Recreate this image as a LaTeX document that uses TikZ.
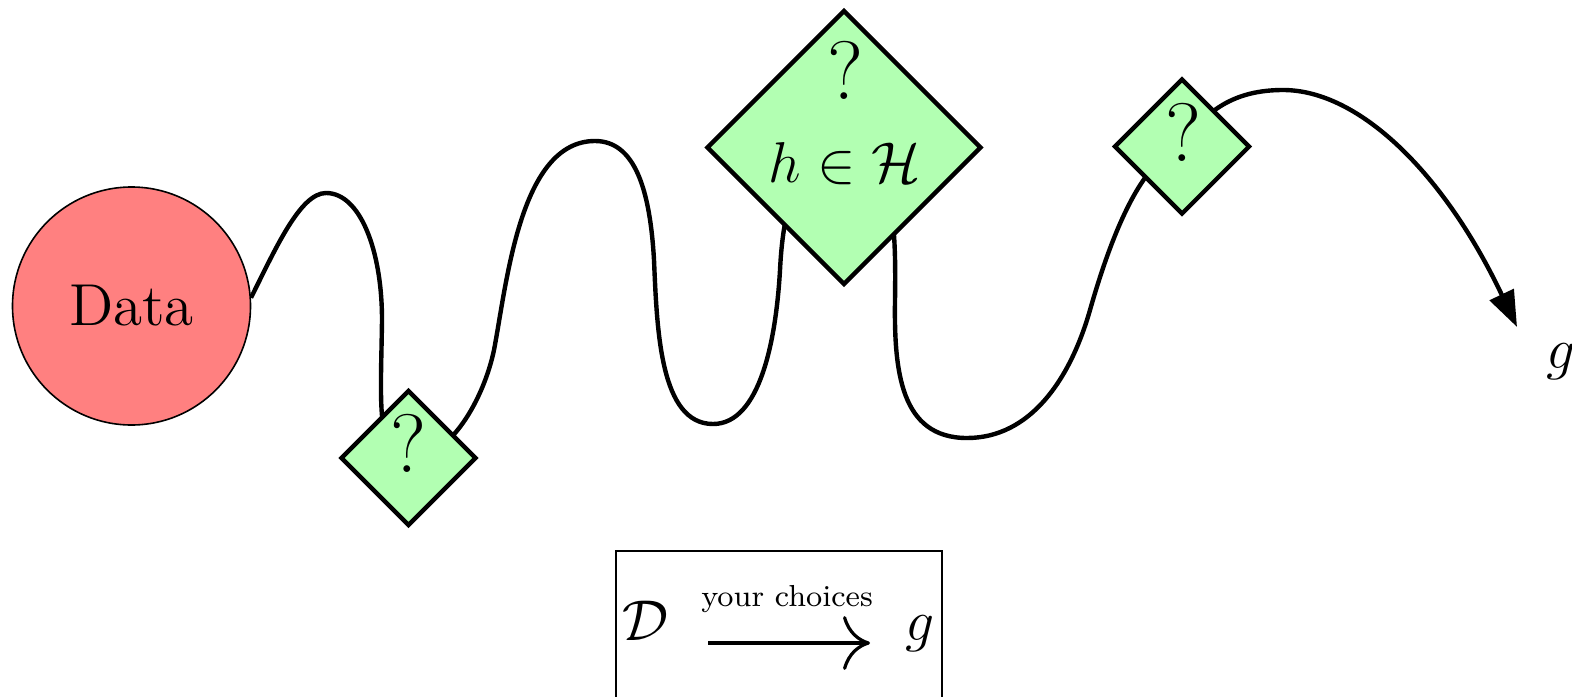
\documentclass[tikz,border=0pt]{standalone}
\usetikzlibrary{shapes.geometric,arrows.meta,backgrounds}
\begin{document}
\begin{tikzpicture}[x=0.25pt,y=-0.25pt,
  curve/.style={line width=1.1pt},
  datanode/.style={circle,draw,line width=0.4pt,fill=red!50,minimum size=59.5pt,inner sep=0pt,font=\fontsize{14.8}{17}\selectfont},
  dia/.style={diamond,draw,line width=1.1pt,fill=green!30,inner sep=0pt},
  qmark/.style={font=\huge,inner sep=0pt},
  bigmath/.style={font=\Large,inner sep=0pt},
  frame/.style={draw,line width=0.5pt,inner sep=0pt},
  lbl/.style={font=\fontsize{7.6}{9}\selectfont,inner sep=0pt}]
\useasboundingbox (0,0) rectangle (1572,696);
\node[datanode] (data) at (131.5,306) {Data};
\node[dia,minimum size=34pt] (d1) at (408.5,458) {};
\node[qmark] (q1) at (408,443) {?};
\node[dia,minimum size=68.75pt] (d2) at (844,147.5) {};
\node[qmark] (q2) at (845,70) {?};
\node[bigmath] (h) at (845,164) {$h\in\mathcal{H}$};
\node[dia,minimum size=34pt] (d3) at (1182,146.5) {};
\node[qmark] (q3) at (1183,132) {?};
\node[bigmath] (g) at (1561,362) {$g$};
\coordinate (tip) at (1517,327);
\begin{scope}[on background layer]
\draw[curve,-{Triangle[length=9pt,width=6.5pt]}] (data.4) .. controls (275,250) and (300,193) .. (326,193)
 .. controls (360,193) and (382,250) .. (382,320)
 .. controls (381,400) and (375,458) .. (d1.center)
 .. controls (450,460) and (484,398) .. (494,350)
 .. controls (507,282) and (520,141) .. (595,141)
 .. controls (635,141) and (650,190) .. (654,260)
 .. controls (657,330) and (660,424) .. (713,424)
 .. controls (760,424) and (776,340) .. (780,270)
 .. controls (782,230) and (790,148) .. (d2.center)
 .. controls (895,148) and (896,230) .. (895,300)
 .. controls (894,370) and (900,438) .. (967,438)
 .. controls (1030,438) and (1070,380) .. (1090,310)
 .. controls (1110,240) and (1140,160) .. (d3.center)
 .. controls (1205,110) and (1235,90) .. (1283,90)
 .. controls (1360,90) and (1445,175) .. (tip);
\end{scope}
\node[frame, minimum width=81.5pt, minimum height=39.75pt] (box) at (779,630.5) {};
\node[bigmath] (bd) at (646,621) {$\mathcal{D}$};
\node[bigmath] (bg) at (920,634) {$g$};
\coordinate (a1) at (708,643);
\coordinate (a2) at (870,643);
\draw[line width=0.8pt,-{Computer Modern Rightarrow[length=6.75pt,width=13.5pt]}] (a1) -- (a2);
\node[lbl,anchor=base] (yc) at (787,606) {your choices};
\end{tikzpicture}
\end{document}
